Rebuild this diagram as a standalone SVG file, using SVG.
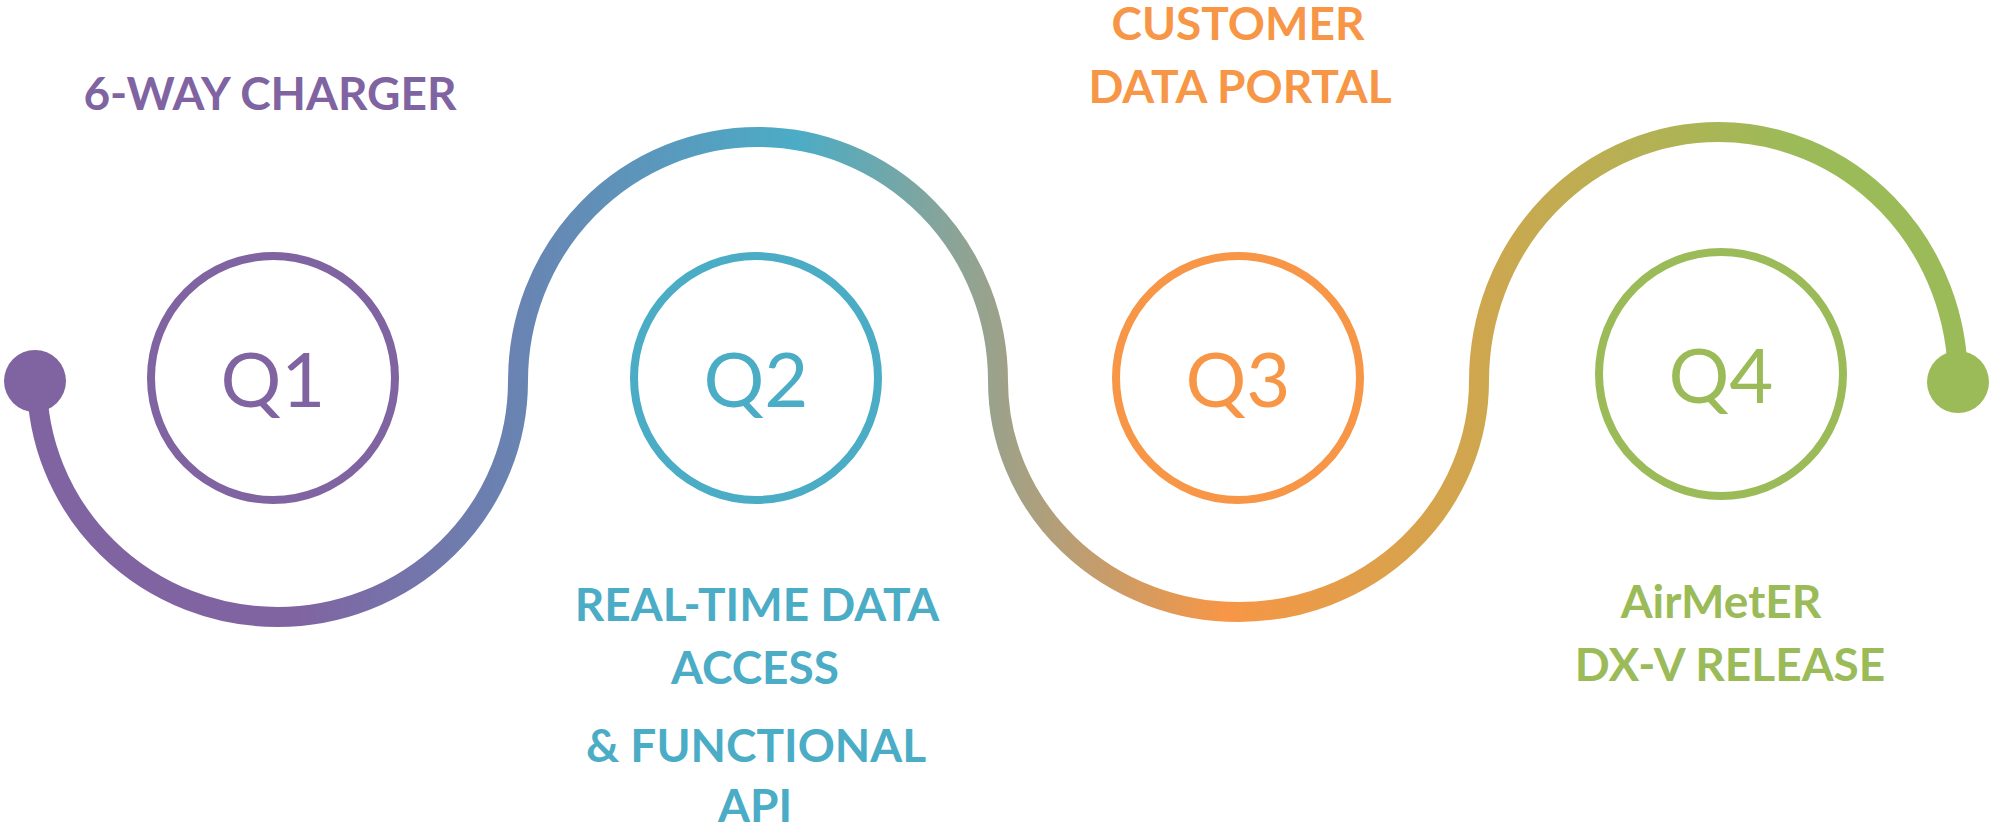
<svg xmlns="http://www.w3.org/2000/svg" width="1990" height="829" viewBox="0 0 1990 829">
  <defs>
    <!-- colour ramp running along the timeline, left to right -->
    <linearGradient id="waveGrad" gradientUnits="userSpaceOnUse" x1="0" y1="0" x2="1990" y2="0">
      <stop offset="0" stop-color="#8064A2"/>
      <stop offset="0.15" stop-color="#8064A2"/>
      <stop offset="0.40" stop-color="#4BACC6"/>
      <stop offset="0.615" stop-color="#F79646"/>
      <stop offset="0.905" stop-color="#9BBB59"/>
      <stop offset="1" stop-color="#9BBB59"/>
    </linearGradient>
    <style>
      .ring { fill: none; stroke-width: 8; }
      .qtxt { font-family: Lato, "Open Sans", "Liberation Sans", sans-serif; font-weight: 400; font-size: 76px; text-anchor: middle; }
      .lbl  { font-family: Lato, "Open Sans", "Liberation Sans", sans-serif; font-weight: 700; font-size: 46px; text-anchor: middle; }
      .ring.purple { stroke: #8064A2; }
      .ring.teal   { stroke: #4BACC6; }
      .ring.orange { stroke: #F79646; }
      .ring.green  { stroke: #9BBB59; }
      text.purple { fill: #8064A2; }
      text.teal   { fill: #4BACC6; }
      text.orange { fill: #F79646; }
      text.green  { fill: #9BBB59; }
      .wave { fill: none; stroke: url(#waveGrad); stroke-width: 20; stroke-linecap: butt; }
    </style>
  </defs>

  <rect x="0" y="0" width="1990" height="829" fill="#FFFFFF"/>

  <!-- timeline wave with round end points -->
  <g id="connectors">
    <path class="wave" d="M 37 381 A 240.5 236 0 0 0 518 381 A 240 244 0 0 1 998 381 A 240.5 231 0 0 0 1479 381 A 239.5 249 0 0 1 1958 381"/>
    <circle cx="35" cy="381" r="31" fill="#8064A2"/>
    <circle cx="1958" cy="382" r="31" fill="#9BBB59"/>
  </g>

  <g id="q1">
    <circle class="ring purple" cx="273" cy="378" r="122"/>
    <text class="qtxt purple" x="273" y="407">Q1</text>
    <text class="lbl purple" x="270" y="110">6-WAY CHARGER</text>
  </g>

  <g id="q2">
    <circle class="ring teal" cx="756" cy="378" r="122"/>
    <text class="qtxt teal" x="756" y="407">Q2</text>
    <text class="lbl teal" x="757" y="621">REAL-TIME DATA</text>
    <text class="lbl teal" x="755" y="684">ACCESS</text>
    <text class="lbl teal" x="756" y="762">&amp; FUNCTIONAL</text>
    <text class="lbl teal" x="755" y="822">API</text>
  </g>

  <g id="q3">
    <circle class="ring orange" cx="1238" cy="378" r="122"/>
    <text class="qtxt orange" x="1238" y="407">Q3</text>
    <text class="lbl orange" x="1238" y="40">CUSTOMER</text>
    <text class="lbl orange" x="1240" y="103">DATA PORTAL</text>
  </g>

  <g id="q4">
    <circle class="ring green" cx="1721" cy="374" r="122"/>
    <text class="qtxt green" x="1721" y="403">Q4</text>
    <text class="lbl green" x="1721" y="618">AirMetER</text>
    <text class="lbl green" x="1730" y="681">DX-V RELEASE</text>
  </g>
</svg>
